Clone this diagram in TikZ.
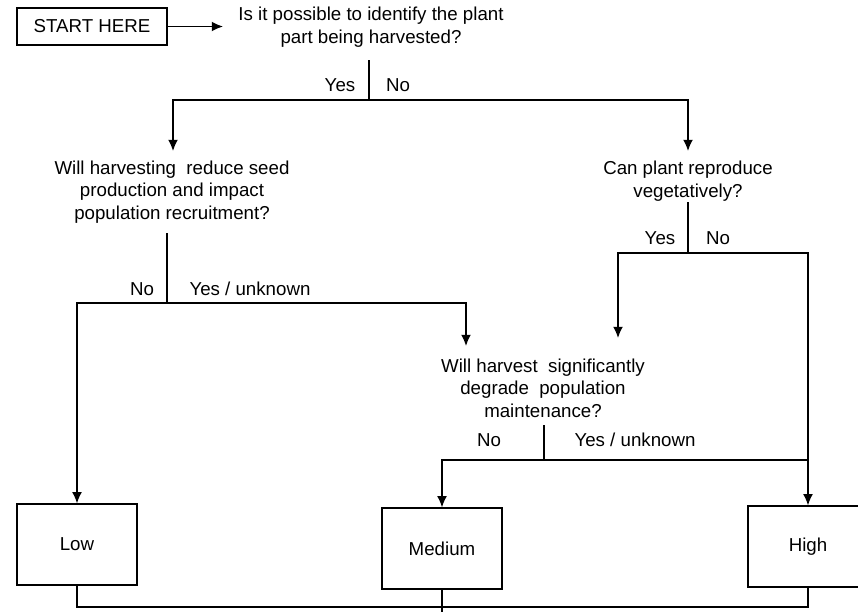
\documentclass[tikz,border=0pt]{standalone}
\usepackage{fontspec}
\setmainfont{Liberation Sans}
\usetikzlibrary{arrows.meta,positioning}
\tikzset{
  >={Latex[length=8pt,width=7pt]},
  x=0.025cm, y=-0.025cm,
}
\tikzstyle{line}=[line width=0.9pt]
\tikzstyle{flow}=[line width=0.9pt,->]
\tikzstyle{result}=[draw,line width=0.9pt,minimum width=3cm,minimum height=2.025cm]
\tikzstyle{question}=[align=center]
\tikzstyle{every node}=[font=\fontsize{13.3}{16}\selectfont]

\begin{document}
\begin{tikzpicture}
    \useasboundingbox (0,0) rectangle (858,612);
    % start and first question
    \node[draw,line,minimum width=3.75cm,minimum height=0.925cm] (start) at (92,26.5) {START HERE};
    \node[question] (q1) at (371,27) {Is it possible to identify the plant\\part being harvested?};
    \coordinate (q1in) at (223,26.5);
    \draw[flow] (start.east) -- (q1in);
    \coordinate (q1s) at (369,60);
    \coordinate (j1) at (369,100);
    \node (yes1) at (340,85) {Yes};
    \node (no1) at (398,85) {No};
    % second level
    \node[question] (q2) at (172,192) {Will harvesting\ \ reduce seed\\production and impact\\population recruitment?};
    \node[question] (q3) at (688,181) {Can plant reproduce\\vegetatively?};
    \coordinate (q2in) at (173,151);
    \coordinate (q3in) at (688,151);
    \draw[line] (q1s) -- (j1);
    \draw[flow] (j1) -| (q2in);
    \draw[flow] (j1) -| (q3in);
    % seed production branch
    \coordinate (q2s) at (167,233);
    \coordinate (j2) at (167,303);
    \node (no2) at (142,289) {No};
    \node (yes2) at (250,289) {Yes / unknown};
    % vegetative branch
    \coordinate (q3s) at (688,202);
    \coordinate (j3) at (688,253);
    \node (yes3) at (660,238) {Yes};
    \node (no3) at (718,238) {No};
    % third question
    \node[question] (q4) at (543,388) {Will harvest\ \ significantly\\degrade\ \ population\\maintenance?};
    \coordinate (q4in) at (466,346);
    \coordinate (q4in2) at (618,338);
    \coordinate (q4s) at (544,425);
    \coordinate (j4) at (544,460);
    \node (no4) at (489,440) {No};
    \node (yes4) at (635,440) {Yes / unknown};
    % outcomes
    \node[result] (low) at (77,544.5) {Low};
    \node[result] (medium) at (442,548.5) {Medium};
    \node[result] (high) at (808,546.5) {High};
    \draw[line] (q2s) -- (j2);
    \draw[flow] (j2) -| (low.north);
    \draw[flow] (j2) -| (q4in);
    \draw[line] (q3s) -- (j3);
    \draw[flow] (j3) -| (q4in2);
    \draw[flow] (j3) -| (high.north);
    \draw[line] (q4s) -- (j4);
    \draw[flow] (j4) -| (medium.north);
    \draw[line] (j4) -- (high.north |- j4);
    % bottom joint
    \coordinate (bot) at (442,607);
    \coordinate (mout) at (442,620);
    \draw[line] (low.south) |- (bot);
    \draw[line] (high.south) |- (bot);
    \draw[line] (medium.south) -- (mout);
\end{tikzpicture}
\end{document}
